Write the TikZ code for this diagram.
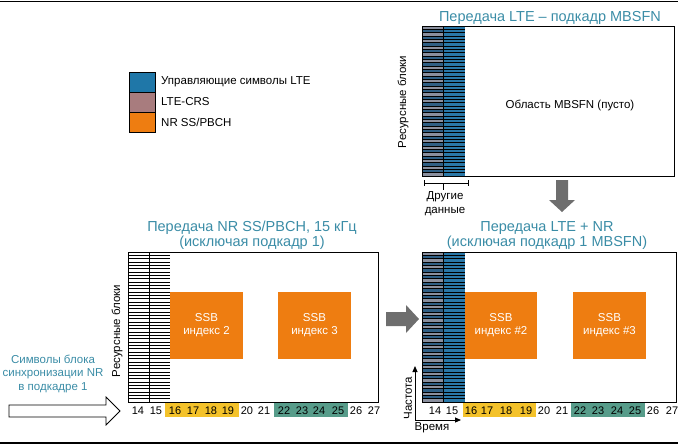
\documentclass[tikz,border=0pt]{standalone}
\usepackage{fontspec}
\setmainfont{Liberation Sans}
\usetikzlibrary{arrows.meta}
\definecolor{ltectl}{HTML}{1F77A8}
\definecolor{ltecrs}{HTML}{A87C7E}
\definecolor{nrss}{HTML}{EE7D11}
\definecolor{ltegrey}{HTML}{8A8F9E}
\definecolor{ltedark}{HTML}{2F5F85}
\definecolor{lteblue}{HTML}{2A78A8}
\definecolor{hlyellow}{HTML}{F4C22A}
\definecolor{hlgreen}{HTML}{579C8A}
\definecolor{titlec}{HTML}{3A8CA6}
\definecolor{arrowgrey}{HTML}{6E6E6E}
\newcommand\ltestripes[1]{%
  \fill[ltedark] (422,#1) rectangle (443,#1+150);
  \foreach \k in {0,2,...,44} \fill[ltegrey] (422,{#1+\k*150/45}) rectangle (443,{#1+(\k+1)*150/45});
  \fill[lteblue] (443,#1) rectangle (465,#1+150);
  \foreach \k in {1,...,44} \draw[line width=0.8] (422,{#1+\k*150/45}) -- (465,{#1+\k*150/45});
  \draw[line width=0.8] (443,#1) -- (443,#1+150);
}
\begin{document}
\begin{tikzpicture}[x=1pt,y=-1pt,
  body/.style={font=\fontsize{11.5}{13.5}\selectfont, inner sep=0pt},
  ttl/.style={font=\fontsize{14.5}{15}\selectfont, text=titlec, inner sep=0pt},
  num/.style={font=\fontsize{11}{12}\selectfont, inner sep=0pt},
  ssbbox/.style={fill=nrss, draw=none},
  ssbtext/.style={font=\fontsize{11.5}{13}\selectfont, text=white, align=center, inner sep=0pt},
  frame/.style={draw=black, line width=0.9},
  blockarrow/.style={fill=arrowgrey, draw=none},
  axis/.style={line width=0.9, -{Triangle[length=6pt,width=5pt]}}]
\useasboundingbox (0,0) rectangle (678,445);
% rules top and bottom
\draw[line width=1.2] (0,1.5) -- (678,1.5);
\draw[line width=1.2] (0,443) -- (678,443);

% legend
\draw[fill=ltectl, line width=0.7] (129,72) rectangle (155,92);
\draw[fill=ltecrs, line width=0.7] (129,92) rectangle (155,112);
\draw[fill=nrss, line width=0.7] (129,112) rectangle (155,132);
\node[body, anchor=west] (leg1) at (161,82) {Управляющие символы LTE};
\node[body, anchor=west] (leg2) at (161,102) {LTE-CRS};
\node[body, anchor=west] (leg3) at (161,122) {NR SS/PBCH};

% ===== top: MBSFN subframe =====
\node[ttl] (t1) at (550,18) {Передача LTE – подкадр MBSFN};
\ltestripes{26}
\draw[frame] (422,26) rectangle (674,176);
\node[body] (mbsfn) at (570,105) {Область MBSFN (пусто)};
\node[body, rotate=90] (rb1) at (403,102) {Ресурсные блоки};
\draw[line width=0.8] (424,180) -- (424,186) (424,183) -- (468,183) (468,180) -- (468,186) (443,183) -- (443,190);
\node[body, align=center, font=\fontsize{11.5}{14}\selectfont] (other) at (445,204) {Другие\\данные};
% down arrow
\fill[blockarrow] (556,180) -- (568,180) -- (568,200) -- (575,200) -- (562,212) -- (549,200) -- (556,200) -- cycle;

% ===== lower left =====
\node[ttl, align=center, font=\fontsize{14.5}{15}\selectfont] (t2) at (252,235.5) {Передача NR SS/PBCH, 15 кГц\\(исключая подкадр 1)};
\fill[hlyellow] (165,403) rectangle (239,417);
\fill[hlgreen] (274,403) rectangle (348,417);
\foreach \k in {1,...,44} \draw[line width=0.8] (128,{252+\k*150/45}) -- (170,{252+\k*150/45});
\draw[line width=0.8] (149,252) -- (149,402);
\draw[frame] (128,252) rectangle (378,402);
\fill[ssbbox] (170,292) rectangle (243,359);
\node[ssbtext] (ssbA) at (206.5,325.5) {SSB\\индекс 2};
\fill[ssbbox] (278,292) rectangle (351,359);
\node[ssbtext] (ssbB) at (314.5,325.5) {SSB\\индекс 3};
\node[body, rotate=90] (rb2) at (117,331) {Ресурсные блоки};
\foreach \n/\x in {14/138,15/156,16/175,17/193,18/211,19/228,20/247,21/264,22/284,23/302,24/319,25/338,26/356,27/374}
  \node[num] at (\x,411) {\n};
\node[body, align=center, text=titlec] (sym) at (53,373.5) {Символы блока\\синхронизации NR\\в подкадре 1};
\draw[line width=0.8, fill=white] (9,405) -- (106,405) -- (106,397) -- (120,411) -- (106,425) -- (106,417) -- (9,417) -- cycle;

% right arrow
\fill[blockarrow] (386,312) -- (406,312) -- (406,305) -- (419,319) -- (406,333) -- (406,326) -- (386,326) -- cycle;

% ===== lower right =====
\node[ttl, align=center, font=\fontsize{14.5}{15}\selectfont] (t3) at (547,236) {Передача LTE + NR\\(исключая подкадр 1 MBSFN)};
\fill[hlyellow] (463,403) rectangle (536,417);
\fill[hlgreen] (571,403) rectangle (645,417);
\ltestripes{252}
\draw[frame] (422,252) rectangle (676,402);
\fill[ssbbox] (465,292) rectangle (537,359);
\node[ssbtext] (ssbC) at (501,325.5) {SSB\\индекс \#2};
\fill[ssbbox] (573,292) rectangle (646,359);
\node[ssbtext] (ssbD) at (609.5,325.5) {SSB\\индекс \#3};
\foreach \n/\x in {14/435,15/452,16/471,17/487,18/506,19/526,20/544,21/562,22/580,23/598,24/617,25/635,26/653,27/672}
  \node[num] at (\x,411) {\n};
% axes
\coordinate (org) at (415,420);
\coordinate (fup) at (415,366);
\coordinate (tright) at (461,420);
\draw[axis] (org) -- (fup);
\draw[axis] (org) -- (tright);
\node[body, rotate=90] (freq) at (408,398) {Частота};
\node[body] (time) at (432,428) {Время};
\end{tikzpicture}
\end{document}
